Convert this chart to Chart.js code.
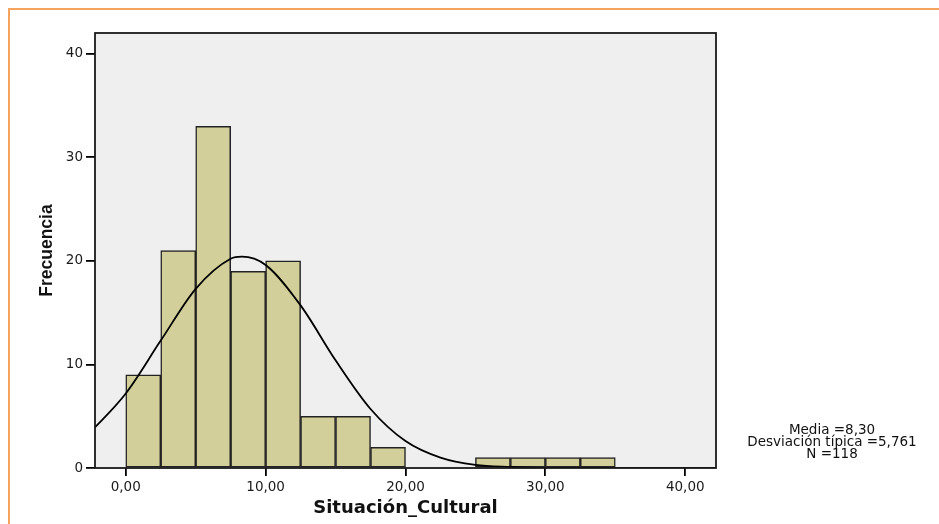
<!DOCTYPE html>
<html>
<head>
<meta charset="utf-8">
<script src="https://cdn.jsdelivr.net/npm/chart.js@4/dist/chart.umd.min.js"></script>
<style>
  html, body { margin: 0; padding: 0; background: #fff; }
  #wrap { position: relative; width: 939px; height: 524px; overflow: hidden; }
  #frame {
    position: absolute; left: 8px; top: 8px; width: 1000px; height: 600px;
    border-top: 2px solid #f6a35e; border-left: 2px solid #f6a35e;
  }
  #chart { position: absolute; left: 0; top: 0; }
  #stats {
    position: absolute; left: 732px; top: 423px; width: 200px;
    text-align: center; font-family: "DejaVu Sans", sans-serif;
    font-size: 13.5px; line-height: 12px; color: #111;
  }
</style>
</head>
<body>
<div id="wrap">
  <div id="frame"></div>
  <canvas id="chart" width="939" height="524"></canvas>
  <div id="stats">Media =8,30<br>Desviación típica =5,761<br>N =118</div>
</div>
<script>
// histogram bins (width 2,5) - centers and counts
const binCenters = [1.25, 3.75, 6.25, 8.75, 11.25, 13.75, 16.25, 18.75, 26.25, 28.75, 31.25, 33.75];
const frequencies = [9, 21, 33, 19, 20, 5, 5, 2, 1, 1, 1, 1];

// normal curve
const curveX = [-2.5, 0, 2.5, 5, 7.5, 8.3, 10, 12.5, 15, 17.5, 20, 22.5, 25, 27.5, 30, 32.5, 35, 37.5, 40, 42.5];
const curveY = [3.5, 7.2, 12.3, 17.3, 20.2, 20.4, 19.6, 15.7, 10.4, 5.7, 2.6, 1.0, 0.3, 0.1, 0, 0, 0, 0, 0, 0];

// tick labels
const xTickValues = [0, 10, 20, 30, 40];
const yTickValues = [0, 10, 20, 30, 40];

const barData = binCenters.map(function (c, i) { return { x: c, y: frequencies[i] }; });
const curveData = curveX.map(function (x, i) { return { x: x, y: curveY[i] }; });

// plot background + frame
const plotBox = {
  id: "plotBox",
  beforeDatasetsDraw: function (chart) {
    const a = chart.chartArea;
    const ctx = chart.ctx;
    ctx.save();
    ctx.fillStyle = "#efefef";
    ctx.fillRect(a.left, a.top, a.right - a.left, a.bottom - a.top);
    ctx.restore();
  },
  afterDatasetsDraw: function (chart) {
    const a = chart.chartArea;
    const ctx = chart.ctx;
    ctx.save();
    ctx.strokeStyle = "#1a1a1a";
    ctx.lineWidth = 1.8;
    ctx.strokeRect(a.left, a.top, a.right - a.left, a.bottom - a.top);
    ctx.restore();
  }
};

new Chart(document.getElementById("chart"), {
  type: "bar",
  data: {
    datasets: [
      {
        type: "line",
        data: curveData,
        borderColor: "#000",
        borderWidth: 1.8,
        pointRadius: 0,
        fill: false,
        cubicInterpolationMode: "monotone",
        order: 0
      },
      {
        type: "bar",
        data: barData,
        backgroundColor: "#d3cf9a",
        borderColor: "#222",
        borderWidth: 1.5,
        borderSkipped: false,
        barPercentage: 1,
        categoryPercentage: 1,
        order: 1
      }
    ]
  },
  options: {
    responsive: false,
    animation: false,
    layout: { padding: { top: 33, right: 223, bottom: 0, left: 0 } },
    plugins: {
      legend: { display: false },
      tooltip: { enabled: false }
    },
    scales: {
      x: {
        type: "linear",
        min: -2.2,
        max: 42.2,
        offset: false,
        grid: { display: true, drawOnChartArea: false, drawTicks: true, tickLength: 8, color: "#000", lineWidth: 1.8, offset: false },
        border: { display: false },
        afterBuildTicks: function (scale) {
          scale.ticks = xTickValues.map(function (v) { return { value: v }; });
        },
        afterFit: function (scale) { scale.height = 56; },
        ticks: {
          color: "#1a1a1a",
          padding: 3,
          maxRotation: 0,
          font: { family: "DejaVu Sans", size: 13.5 },
          callback: function (v) { return v.toFixed(2).replace(".", ","); }
        },
        title: {
          display: true,
          text: "Situación_Cultural",
          color: "#111",
          font: { family: "DejaVu Sans", size: 18, weight: "bold" },
          padding: { top: 0, bottom: 5 }
        }
      },
      y: {
        min: 0,
        max: 42,
        grid: { display: true, drawOnChartArea: false, drawTicks: true, tickLength: 9, color: "#000", lineWidth: 1.8 },
        border: { display: false },
        afterBuildTicks: function (scale) {
          scale.ticks = yTickValues.map(function (v) { return { value: v }; });
        },
        afterFit: function (scale) { scale.width = 95; },
        ticks: {
          color: "#1a1a1a",
          padding: 3,
          font: { family: "DejaVu Sans", size: 13.5 }
        },
        title: {
          display: true,
          text: "Frecuencia",
          color: "#111",
          font: { family: "Liberation Sans", size: 17.5, weight: "bold" },
          padding: { top: 37, bottom: 0 }
        }
      }
    }
  },
  plugins: [plotBox]
});
</script>
</body>
</html>
